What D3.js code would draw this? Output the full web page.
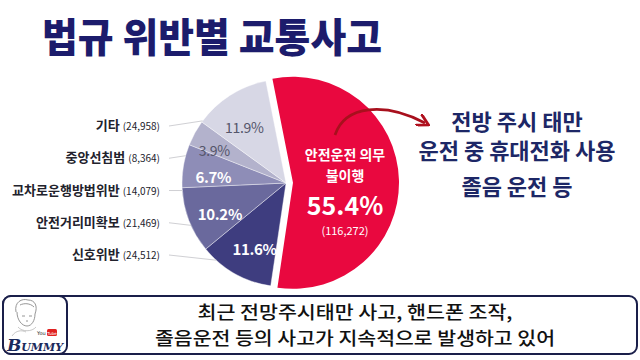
<!DOCTYPE html>
<html><head><meta charset="utf-8">
<script src="https://cdn.jsdelivr.net/npm/d3@7"></script>
<style>body{margin:0;background:#fff}svg{display:block}</style>
</head><body><svg id="c" width="640" height="360"></svg>
<script>
const categories = ["안전운전 의무 불이행","신호위반","안전거리미확보","교차로운행방법위반","중앙선침범","기타"];
const counts = [116272,24512,21469,14079,8364,24958];
const pctLabels = ["55.4%","11.6%","10.2%","6.7%","3.9%","11.9%"];
const countLabels = ["(116,272)","(24,512)","(21,469)","(14,079)","(8,364)","(24,958)"];
const colors = ["#e9083f","#3e3d7f","#6a699d","#8e8db7","#b3b2cc","#d7d7e5"];
const title = "법규 위반별 교통사고";
const noteLines = ["전방 주시 태만","운전 중 휴대전화 사용","졸음 운전 등"];
const footLines = ["최근 전망주시태만 사고, 핸드폰 조작,","졸음운전 등의 사고가 지속적으로 발생하고 있어"];

const svg = d3.select("#c");
const FONT = "'Noto Sans CJK KR','Noto Sans',sans-serif";
const deg = Math.PI/180;

// Title
svg.append("text").attr("x",42).attr("y",52)
  .attr("font-family",FONT).attr("font-weight",900).attr("font-size",40)
  .attr("fill","#1c1c6c").attr("textLength",340).attr("lengthAdjust","spacingAndGlyphs")
  .text(title);

// Pie
const cx = 286, cy = 183, R = 104, Rred = 106, explode = 7;
const data = categories.map((c,i)=>({cat:c,value:counts[i],pct:pctLabels[i],cnt:countLabels[i],color:colors[i],i}));
const start = -11.2*deg;
const pie = d3.pie().sort(null).value(d=>d.value).startAngle(start).endAngle(start+2*Math.PI);
const arcs = pie(data);
const arc = d3.arc().innerRadius(0).outerRadius(R);
const arcRed = d3.arc().innerRadius(0).outerRadius(Rred);

const g = svg.append("g").attr("transform",`translate(${cx},${cy})`);
arcs.forEach(a=>{
  if(a.index===0){
    const mid=(a.startAngle+a.endAngle)/2;
    g.append("path").attr("d",arcRed(a)).attr("fill",a.data.color)
     .attr("transform",`translate(${explode*Math.sin(mid)},${-explode*Math.cos(mid)})`);
  } else {
    g.append("path").attr("d",arc(a)).attr("fill",a.data.color).attr("stroke","#fff").attr("stroke-width",0.4);
  }
});

// inner percent labels for small slices
arcs.slice(1).forEach(a=>{
  const mid=(a.startAngle+a.endAngle)/2 - 4*deg;
  const rl = a.index===4 ? 79 : (a.index===5 ? 70 : 73);
  const light = a.index>=4;
  g.append("text").attr("x",rl*Math.sin(mid)).attr("y",-rl*Math.cos(mid))
   .attr("text-anchor","middle").attr("dominant-baseline","central")
   .attr("font-family",FONT).attr("font-size",light?14:15).attr("font-weight",light?400:700)
   .attr("fill",light?"#55556a":"#ffffff").attr("letter-spacing",-0.3)
   .text(a.data.pct);
});

// Red slice text
const redMid=(arcs[0].startAngle+arcs[0].endAngle)/2;
const rx0 = cx + explode*Math.sin(redMid) + 52, ry0 = cy;
const redText = [
  {t:categories[0].split(" ").slice(0,2).join(" "), y:-23, s:14, w:700},
  {t:categories[0].split(" ")[2], y:-2, s:14, w:700},
  {t:pctLabels[0], y:32, s:25, w:700},
  {t:countLabels[0], y:52, s:11, w:400}
];
redText.forEach(r=>{
  svg.append("text").attr("x",rx0).attr("y",ry0+r.y).attr("text-anchor","middle")
   .attr("font-family",FONT).attr("font-size",r.s).attr("font-weight",r.w).attr("fill","#fff")
   .text(r.t);
});

// Left labels with leaders
const leftOrder = data.slice(1).reverse();
const yScale = d3.scalePoint().domain(leftOrder.map(d=>d.cat)).range([126,255]);
leftOrder.forEach(d=>{
  const y = yScale(d.cat);
  const t = svg.append("text").attr("x",160).attr("y",y+4).attr("text-anchor","end")
    .attr("font-family",FONT).attr("fill","#22222c");
  t.append("tspan").attr("font-size",13).attr("font-weight",600).text(d.cat+" ");
  t.append("tspan").attr("font-size",10).attr("font-weight",400).text(d.cnt);
  const ey = y + (y-190)*0.08;
  const ex = cx - Math.sqrt(R*R-(ey-cy)*(ey-cy));
  svg.append("line").attr("x1",169).attr("y1",y).attr("x2",ex).attr("y2",ey)
    .attr("stroke","#d0d0d4").attr("stroke-width",1);
});

// Arrow
const defs = svg.append("defs");
defs.append("marker").attr("id","ah").attr("viewBox","0 0 10 10").attr("refX",6).attr("refY",5)
  .attr("markerWidth",5).attr("markerHeight",5).attr("orient","auto")
  .append("path").attr("d","M0,0 L9,5 L0,10").attr("fill","none").attr("stroke","#b0101e").attr("stroke-width",2.2);
svg.append("path").attr("d","M335,135 C345,105 385,102 425,123")
  .attr("fill","none").attr("stroke","#a8101d").attr("stroke-width",2.6).attr("marker-end","url(#ah)");

// Right note
const noteY=[130,159,195];
noteLines.forEach((l,i)=>{
  svg.append("text").attr("x",517).attr("y",noteY[i]).attr("text-anchor","middle")
   .attr("font-family",FONT).attr("font-size",22).attr("font-weight",700).attr("fill","#1d2766")
   .text(l);
});

// Footer box
svg.append("rect").attr("x",3).attr("y",296).attr("width",634).attr("height",58).attr("rx",8)
  .attr("fill","#fff").attr("stroke","#1a1f4a").attr("stroke-width",2);
svg.append("rect").attr("x",3).attr("y",296).attr("width",64).attr("height",58).attr("rx",8)
  .attr("fill","#fff").attr("stroke","#1a1f4a").attr("stroke-width",2);
const footLen=[315,400], footY=[319,345];
footLines.forEach((l,i)=>{
  svg.append("text").attr("x",355).attr("y",footY[i]).attr("text-anchor","middle")
   .attr("font-family",FONT).attr("font-size",18).attr("font-weight",500).attr("fill","#111")
   .attr("textLength",footLen[i]).attr("lengthAdjust","spacingAndGlyphs").text(l);
});

// Logo
const lg = svg.append("g");
lg.append("path").attr("d","M16,312 C14,302 22,298 28,300 C35,300 38,306 35,314 M17,312 C17,320 22,326 27,326 C32,326 35,320 35,314 M20,305 C24,303 30,303 34,307 M22,316 l3,0 M29,316 l3,0 M26,321 l2,0")
  .attr("fill","none").attr("stroke","#8a8a8a").attr("stroke-width",0.9);
lg.append("path").attr("d","M18,327 C22,332 32,332 36,327 M12,336 C16,330 22,330 26,332")
  .attr("fill","none").attr("stroke","#b0b0b0").attr("stroke-width",0.7);
lg.append("text").attr("x",37).attr("y",335).attr("font-family","'DejaVu Sans'").attr("font-size",5).attr("fill","#222").text("You");
lg.append("rect").attr("x",47).attr("y",329).attr("width",10).attr("height",7).attr("rx",1.5).attr("fill","#e02020");
lg.append("text").attr("x",52).attr("y",334.5).attr("text-anchor","middle").attr("font-family","'DejaVu Sans'").attr("font-size",4).attr("fill","#fff").text("Tube");
const bt = lg.append("text").attr("x",35).attr("y",351).attr("text-anchor","middle")
  .attr("font-family","'DejaVu Serif','Liberation Serif',serif").attr("font-weight",700).attr("font-style","italic").attr("fill","#1b2a5c");
bt.append("tspan").attr("font-size",17).text("B");
bt.append("tspan").attr("font-size",11).text("UMMY");
</script></body></html>
